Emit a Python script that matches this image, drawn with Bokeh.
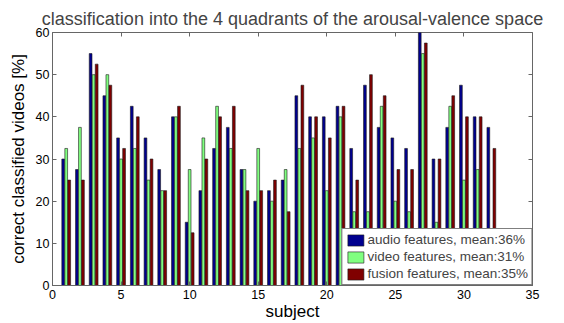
from bokeh.plotting import figure
from bokeh.models import ColumnDataSource, FixedTicker, LinearAxis, Range1d, Legend, CustomJSTickFormatter
from bokeh.transform import dodge
from bokeh.embed import file_html
from bokeh.resources import INLINE

subjects = list(range(1, 33))
audio = [30, 27.5, 55, 45, 35, 42.5, 35, 27.5, 40, 15, 22.5, 32.5, 37.5, 27.5, 20, 22.5,
         25, 45, 40, 40, 42.5, 32.5, 47.5, 37.5, 35, 32.5, 60, 30, 37.5, 47.5, 40, 37.5]
video = [32.5, 37.5, 50, 50, 30, 32.5, 25, 22.5, 40, 27.5, 35, 42.5, 32.5, 27.5, 32.5, 20,
         27.5, 32.5, 35, 22.5, 40, 17.5, 17.5, 42.5, 20, 17.5, 55, 15, 42.5, 25, 27.5, 12.5]
fusion = [25, 25, 52.5, 47.5, 32.5, 40, 30, 22.5, 42.5, 12.5, 30, 40, 42.5, 22.5, 22.5, 25,
          17.5, 47.5, 40, 35, 42.5, 25, 50, 45, 27.5, 27.5, 57.5, 30, 45, 40, 40, 32.5]
series_names = ["audio features", "video features", "fusion features"]
x_ticks = [0, 5, 10, 15, 20, 25, 30, 35]
y_ticks = [0, 10, 20, 30, 40, 50, 60]

FONT = "Liberation Sans"
colors = ["#00008F", "#80FF80", "#800000"]
offsets = [-0.22, 0.0, 0.22]

source = ColumnDataSource(dict(subject=subjects, audio=audio, video=video, fusion=fusion))

p = figure(width=564, height=323, output_backend="svg", toolbar_location=None,
           x_range=Range1d(0, 35), y_range=Range1d(0, 60),
           min_border_left=52, min_border_right=32, min_border_top=32, min_border_bottom=36,
           border_fill_color="white")

p.title.text = "classification into the 4 quadrants of the arousal-valence space"
p.title.text_font = FONT
p.title.text_font_size = "18px"
p.title.text_font_style = "normal"
p.title.align = "center"
p.title.offset = 0
p.title.standoff = 8

renderers = []
for col, name, c, off in zip(["audio", "video", "fusion"], series_names, colors, offsets):
    vals = source.data[col]
    mean = round(sum(vals) / len(vals))
    r = p.vbar(x=dodge("subject", off, range=p.x_range), top=col, width=0.2, source=source,
               fill_color=c, line_color="#1a1a1a", line_width=0.6)
    renderers.append((f"{name}, mean:{mean}%", [r]))

legend = Legend(items=renderers, location="bottom_right", label_text_font=FONT,
                label_text_font_size="13.5px", glyph_width=20, glyph_height=14,
                label_height=14, spacing=2, padding=3, margin=0,
                border_line_color="black", background_fill_alpha=1.0,
                label_standoff=2)
p.add_layout(legend, "center")

p.xgrid.visible = False
p.ygrid.visible = False
p.outline_line_color = "#666666"

for ax in [p.xaxis[0], p.yaxis[0]]:
    ax.major_tick_in = 4
    ax.major_tick_out = 0
    ax.minor_tick_in = 0
    ax.minor_tick_out = 0
    ax.axis_line_color = "#666666"
    ax.major_tick_line_color = "#666666"
    ax.major_label_text_font = FONT
    ax.major_label_text_font_size = "12.5px"
    ax.major_label_text_color = "black"
    ax.axis_label_text_font = FONT
    ax.axis_label_text_font_size = "17px"
    ax.axis_label_text_font_style = "normal"
    ax.axis_label_text_color = "black"

p.xaxis[0].major_label_standoff = 4
p.xaxis[0].axis_label_standoff = 0
p.yaxis[0].major_label_standoff = 3
p.yaxis[0].axis_label_standoff = 5

p.xaxis[0].ticker = FixedTicker(ticks=x_ticks)
p.yaxis[0].ticker = FixedTicker(ticks=y_ticks)
p.xaxis[0].axis_label = "subject"
p.yaxis[0].axis_label = "correct classified videos [%]"

blank = CustomJSTickFormatter(code="return '';")
top_ax = LinearAxis(ticker=FixedTicker(ticks=x_ticks), formatter=blank,
                    major_tick_in=4, major_tick_out=0, minor_tick_in=0, minor_tick_out=0,
                    axis_line_color=None, major_tick_line_color="#666666", major_label_standoff=0)
right_ax = LinearAxis(ticker=FixedTicker(ticks=y_ticks), formatter=blank,
                      major_tick_in=4, major_tick_out=0, minor_tick_in=0, minor_tick_out=0,
                      axis_line_color=None, major_tick_line_color="#666666", major_label_standoff=0)
p.add_layout(top_ax, "above")
p.add_layout(right_ax, "right")

open("out.html", "w").write(file_html(p, INLINE))
